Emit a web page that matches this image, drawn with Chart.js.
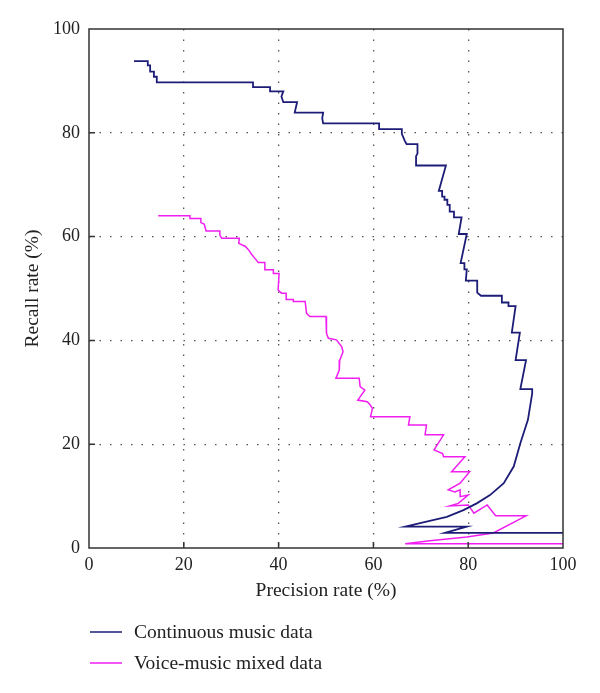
<!DOCTYPE html>
<html>
<head>
<meta charset="utf-8">
<script src="https://cdn.jsdelivr.net/npm/chart.js@4"></script>
<style>
  html, body { margin: 0; padding: 0; background: #fff; }
  canvas { display: block; }
</style>
</head>
<body>
<canvas id="prChart" width="600" height="693"></canvas>
<script>
// precision / recall points (percent)
const continuousPrecision = [9.5, 12.4, 12.4, 12.9, 12.9, 13.7, 13.7, 14.3, 14.3, 34.6, 34.6, 38.2, 38.2, 41.0, 40.6, 41.0, 43.9, 43.4, 49.4, 49.2, 49.4, 61.2, 61.2, 66.0, 66.0, 66.6, 67.0, 69.3, 69.3, 69.0, 69.0, 75.3, 73.8, 74.5, 74.5, 75.0, 75.0, 75.6, 75.6, 76.1, 76.1, 77.0, 77.0, 78.6, 78.0, 79.7, 78.4, 79.2, 79.2, 79.7, 79.5, 81.9, 81.9, 82.7, 87.1, 87.1, 88.5, 88.5, 90.0, 89.2, 90.9, 90.0, 92.2, 91.0, 93.5, 93.5, 92.6, 91.0, 89.6, 87.5, 84.6, 81.8, 79.0, 75.5, 71.2, 66.7, 79.7, 75.1, 100];
const continuousRecall = [93.8, 93.8, 93.0, 93.0, 91.8, 91.8, 90.8, 90.8, 89.7, 89.7, 88.8, 88.8, 88.0, 88.0, 87.0, 85.9, 85.9, 83.9, 83.9, 82.8, 81.8, 81.8, 80.7, 80.7, 79.8, 78.5, 77.8, 77.8, 76.0, 75.5, 73.7, 73.7, 68.8, 68.8, 67.7, 67.7, 67.1, 67.1, 66.1, 66.1, 64.8, 64.8, 63.7, 63.7, 60.5, 60.5, 54.9, 54.9, 53.7, 53.7, 51.5, 51.5, 49.2, 48.6, 48.6, 47.3, 47.3, 46.6, 46.6, 41.5, 41.5, 36.2, 36.2, 30.6, 30.6, 29.8, 24.7, 20.2, 15.7, 12.5, 10.2, 8.6, 7.3, 6.0, 5.1, 4.1, 4.1, 2.9, 2.9];

const mixedPrecision = [14.6, 21.3, 21.3, 23.6, 23.6, 24.3, 24.7, 27.6, 27.6, 28.0, 31.7, 31.6, 33.0, 33.7, 34.3, 35.0, 35.7, 37.1, 37.1, 38.9, 38.9, 40.1, 39.9, 40.6, 41.6, 41.6, 43.1, 43.1, 45.6, 45.9, 46.6, 50.0, 50.1, 50.5, 52.2, 53.3, 53.6, 52.9, 52.8, 52.1, 57.0, 57.2, 58.2, 56.7, 58.7, 59.3, 59.8, 59.4, 67.7, 67.4, 71.2, 70.9, 74.8, 72.8, 74.6, 74.8, 79.3, 76.5, 80.3, 78.3, 75.8, 77.2, 78.3, 78.3, 80.0, 77.9, 76.1, 80.0, 81.2, 84.0, 85.8, 92.2, 85.3, 79.7, 71.9, 66.7, 100];
const mixedRecall = [64.0, 64.0, 63.5, 63.5, 62.7, 62.4, 61.1, 61.1, 60.3, 59.7, 59.7, 58.7, 58.1, 57.4, 56.6, 55.8, 55.0, 55.0, 53.6, 53.6, 52.9, 52.9, 49.7, 49.1, 49.1, 47.9, 47.9, 47.5, 47.5, 45.2, 44.6, 44.6, 41.4, 40.4, 40.1, 38.8, 37.8, 36.2, 34.3, 32.7, 32.7, 31.1, 30.4, 28.5, 28.2, 27.6, 26.9, 25.3, 25.3, 23.7, 23.7, 21.8, 21.8, 18.9, 18.2, 17.6, 17.6, 14.7, 14.7, 12.5, 11.2, 10.8, 11.2, 9.9, 10.2, 8.6, 8.1, 8.3, 6.7, 8.3, 6.2, 6.2, 2.9, 2.1, 1.4, 0.8, 0.8];

const seriesLabels = ["Continuous music data", "Voice-music mixed data"];
const xTicks = [0, 20, 40, 60, 80, 100];
const yTicks = [0, 20, 40, 60, 80, 100];

const FONT = "'Liberation Serif', 'DejaVu Serif', serif";
const TEXT = "#222";
const BLUE = "#1d1d78";
const PINK = "#f01ef0";

const toPoints = (xs, ys) => xs.map((x, i) => ({ x: x, y: ys[i] }));

// frame + inward tick marks, like the original plot
const frameTicks = {
  id: "frameTicks",
  afterDraw(chart) {
    const { ctx, chartArea: a, scales } = chart;
    ctx.save();
    ctx.strokeStyle = "#333";
    ctx.lineWidth = 1.5;
    ctx.strokeRect(a.left, a.top, a.right - a.left, a.bottom - a.top);
    ctx.beginPath();
    xTicks.slice(1, -1).forEach(v => {
      const px = scales.x.getPixelForValue(v);
      ctx.moveTo(px, a.bottom);
      ctx.lineTo(px, a.bottom - 6);
    });
    yTicks.slice(1, -1).forEach(v => {
      const py = scales.y.getPixelForValue(v);
      ctx.moveTo(a.left, py);
      ctx.lineTo(a.left + 6, py);
    });
    ctx.stroke();
    ctx.restore();
  }
};

// legend stacked under the axis title
const stackedLegend = {
  id: "stackedLegend",
  afterDraw(chart) {
    const ctx = chart.ctx;
    ctx.save();
    ctx.font = "19.5px " + FONT;
    ctx.textBaseline = "middle";
    ctx.fillStyle = TEXT;
    chart.data.datasets.forEach((ds, i) => {
      const y = 632 + i * 31;
      ctx.strokeStyle = ds.borderColor;
      ctx.lineWidth = 1.5;
      ctx.beginPath();
      ctx.moveTo(90, y);
      ctx.lineTo(122, y);
      ctx.stroke();
      ctx.fillText(ds.label, 134, y + 1);
    });
    ctx.restore();
  }
};

const gridColor = ctx => (ctx.tick && (ctx.tick.value === 0 || ctx.tick.value === 100)) ? "rgba(0,0,0,0)" : "#555";

new Chart(document.getElementById("prChart"), {
  type: "scatter",
  data: {
    datasets: [{
      label: seriesLabels[0],
      data: toPoints(continuousPrecision, continuousRecall),
      showLine: true,
      borderColor: BLUE,
      borderWidth: 1.8,
      pointRadius: 0,
      tension: 0
    }, {
      label: seriesLabels[1],
      data: toPoints(mixedPrecision, mixedRecall),
      showLine: true,
      borderColor: PINK,
      borderWidth: 1.5,
      pointRadius: 0,
      tension: 0
    }]
  },
  options: {
    responsive: false,
    animation: false,
    layout: { padding: { left: 0, top: 29, right: 37, bottom: 0 } },
    plugins: {
      legend: { display: false },
      tooltip: { enabled: false }
    },
    scales: {
      x: {
        type: "linear",
        min: 0,
        max: 100,
        afterFit: s => { s.height = 145; },
        afterBuildTicks: s => { s.ticks = xTicks.map(v => ({ value: v })); },
        ticks: { padding: 6, color: TEXT, font: { family: FONT, size: 18 } },
        grid: { drawTicks: false, color: gridColor, lineWidth: 1.3 },
        border: { display: false, dash: [1.5, 9] },
        title: {
          display: true,
          text: "Precision rate (%)",
          color: TEXT,
          font: { family: FONT, size: 19.5 },
          padding: { top: 0, bottom: 90 }
        }
      },
      y: {
        type: "linear",
        min: 0,
        max: 100,
        afterFit: s => { s.width = 89; },
        afterBuildTicks: s => { s.ticks = yTicks.map(v => ({ value: v })); },
        ticks: { padding: 9, color: TEXT, font: { family: FONT, size: 18 } },
        grid: { drawTicks: false, color: gridColor, lineWidth: 1.3 },
        border: { display: false, dash: [1.5, 9] },
        title: {
          display: true,
          text: "Recall rate (%)",
          color: TEXT,
          font: { family: FONT, size: 19.5 },
          padding: { top: 21, bottom: 0 }
        }
      }
    }
  },
  plugins: [frameTicks, stackedLegend]
});
</script>
</body>
</html>
